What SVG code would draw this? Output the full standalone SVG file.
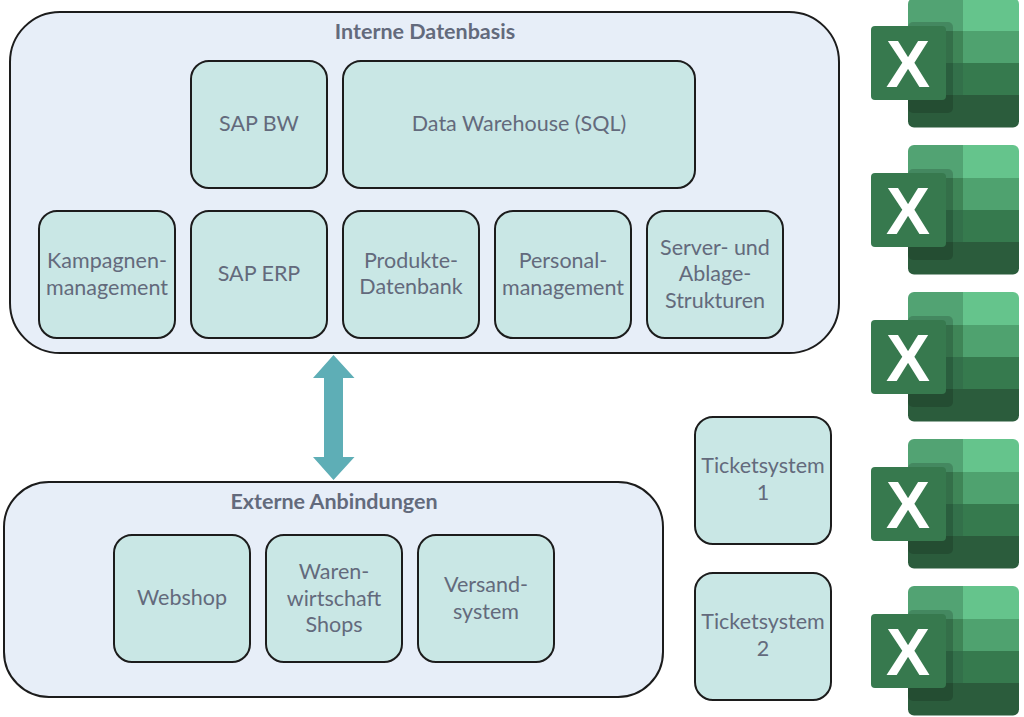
<svg xmlns="http://www.w3.org/2000/svg" width="1024" height="717" viewBox="0 0 1024 717">
<style>
.c{fill:#e7eef8;stroke:#1c1c1c;stroke-width:2}
.n{fill:#c9e7e5;stroke:#1c1c1c;stroke-width:2}
text{font-family:"Lato","Noto Sans",sans-serif;text-anchor:middle;fill:#636a7c}
.l{font-size:21.5px}
.t{font-size:21.500px;font-weight:700}
.x{font-family:"Liberation Sans",Arial,sans-serif;font-size:66px;font-weight:700;fill:#fff}
</style>
<defs>
<clipPath id="sheet"><rect x="908" y="-2" width="111" height="129.500" rx="6"/></clipPath>
<g id="xl">
<g clip-path="url(#sheet)">
<rect x="908" y="-2" width="55" height="33" fill="#52a373"/>
<rect x="963" y="-2" width="56" height="33" fill="#65c48c"/>
<rect x="908" y="31" width="55" height="32" fill="#3f8557"/>
<rect x="963" y="31" width="56" height="32" fill="#4fa26f"/>
<rect x="908" y="63" width="55" height="32" fill="#33704a"/>
<rect x="963" y="63" width="56" height="32" fill="#367a4e"/>
<rect x="908" y="95" width="111" height="33" fill="#2b5c3c"/>
<rect x="908" y="22" width="45" height="91" rx="5" fill="#000" opacity=".16"/>
</g>
<rect x="871" y="26" width="75" height="74" rx="4" fill="#37794e"/>
<text class="x" x="908" y="87">X</text>
</g>
</defs>
<rect width="1024" height="717" fill="#fff"/>
<g id="connectors">
<path d="M333.500 355 L354.500 378 H343 V457 H354.500 L333.500 480 L313 457 H324 V378 H313 Z" fill="#5eaeb6"/>
</g>
<g id="interne-datenbasis">
<rect class="c" x="10" y="12" width="829" height="341" rx="50"/>
<text class="t" x="425" y="39">Interne Datenbasis</text>
</g>
<g id="externe-anbindungen">
<rect class="c" x="4" y="482" width="659" height="215" rx="45"/>
<text class="t" x="334" y="509">Externe Anbindungen</text>
</g>
<g id="sap-bw"><rect class="n" x="191" y="61" width="136" height="127" rx="18"/><text class="l" x="259" y="131">SAP BW</text></g>
<g id="data-warehouse"><rect class="n" x="343" y="61" width="352" height="127" rx="18"/><text class="l" x="519" y="131">Data Warehouse (SQL)</text></g>
<g id="kampagnen"><rect class="n" x="39" y="211" width="136" height="127" rx="18"/><text class="l" x="107" y="268">Kampagnen-</text><text class="l" x="107" y="295">management</text></g>
<g id="sap-erp"><rect class="n" x="191" y="211" width="136" height="127" rx="18"/><text class="l" x="259" y="281">SAP ERP</text></g>
<g id="produkte"><rect class="n" x="343" y="211" width="136" height="127" rx="18"/><text class="l" x="411" y="268">Produkte-</text><text class="l" x="411" y="294">Datenbank</text></g>
<g id="personal"><rect class="n" x="495" y="211" width="136" height="127" rx="18"/><text class="l" x="563" y="268">Personal-</text><text class="l" x="563" y="295">management</text></g>
<g id="server"><rect class="n" x="647" y="211" width="136" height="127" rx="18"/><text class="l" x="715" y="255">Server- und</text><text class="l" x="715" y="281">Ablage-</text><text class="l" x="715" y="308">Strukturen</text></g>
<g id="webshop"><rect class="n" x="114" y="535" width="136" height="127" rx="18"/><text class="l" x="182" y="605">Webshop</text></g>
<g id="warenwirtschaft"><rect class="n" x="266" y="535" width="136" height="127" rx="18"/><text class="l" x="334" y="579">Waren-</text><text class="l" x="334" y="606">wirtschaft</text><text class="l" x="334" y="632">Shops</text></g>
<g id="versand"><rect class="n" x="418" y="535" width="136" height="127" rx="18"/><text class="l" x="486" y="592">Versand-</text><text class="l" x="486" y="619">system</text></g>
<g id="ticket-1"><rect class="n" x="695" y="417" width="136" height="127" rx="18"/><text class="l" x="763" y="473">Ticketsystem</text><text class="l" x="763" y="500">1</text></g>
<g id="ticket-2"><rect class="n" x="695" y="573" width="136" height="127" rx="18"/><text class="l" x="763" y="629">Ticketsystem</text><text class="l" x="763" y="656">2</text></g>
<g id="excel-1"><use href="#xl"/></g>
<g id="excel-2"><use href="#xl" y="147"/></g>
<g id="excel-3"><use href="#xl" y="294"/></g>
<g id="excel-4"><use href="#xl" y="441"/></g>
<g id="excel-5"><use href="#xl" y="588"/></g>
</svg>
